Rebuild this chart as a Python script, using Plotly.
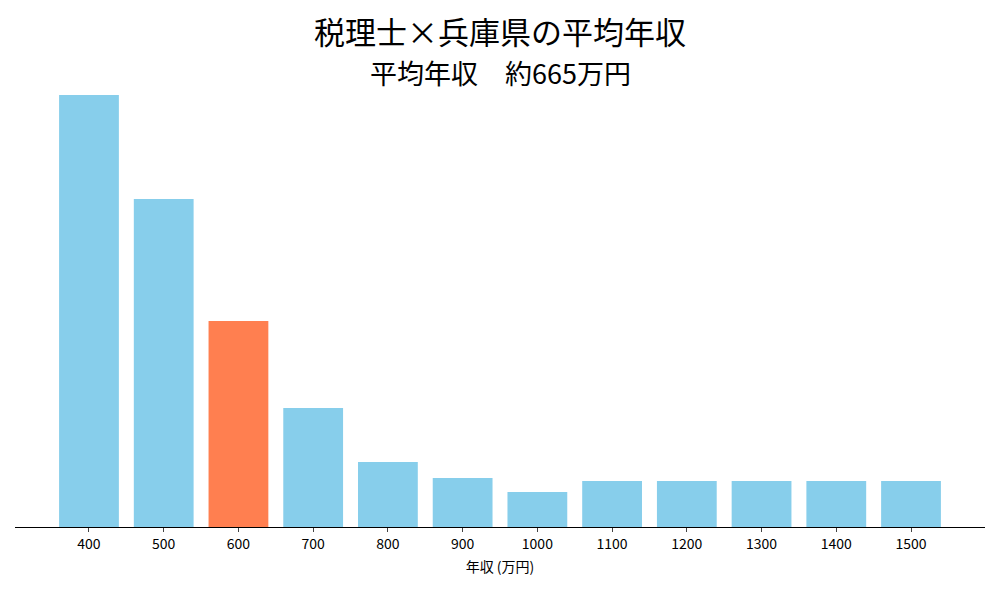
import plotly.graph_objects as go

categories = ["400","500","600","700","800","900","1000","1100","1200","1300","1400","1500"]
values = [432, 328, 206, 119, 65, 49, 35, 46, 46, 46, 46, 46]
highlight = "600"
title1 = "税理士×兵庫県の平均年収"
title2 = "平均年収　約665万円"
colors = ["#FF7F50" if c == highlight else "#87CEEB" for c in categories]

fig = go.Figure(go.Bar(x=list(range(len(categories))), y=values, marker_color=colors,
                       marker_line_width=0, width=0.8))
fig.update_layout(
    width=1000, height=600, plot_bgcolor="white", paper_bgcolor="white",
    margin=dict(l=7, r=23, t=87, b=81, autoexpand=False),
    font=dict(family="Noto Sans CJK JP", color="black"),
    annotations=[
        dict(text=title1, xref="paper", yref="paper", x=0.5, y=1, yshift=65, showarrow=False,
             font=dict(size=31), xanchor="center", yanchor="middle"),
        dict(text=title2, xref="paper", yref="paper", x=0.5, y=1, yshift=23, showarrow=False,
             font=dict(size=27), xanchor="center", yanchor="middle"),
    ],
    xaxis=dict(range=[-0.99, 11.99], tickvals=list(range(len(categories))), ticktext=categories,
               showline=True, linecolor="black", ticks="outside", ticklen=4, tickfont=dict(size=14),
               title=dict(text="年収 (万円)", font=dict(size=14), standoff=10)),
    yaxis=dict(range=[0, 432], visible=False),
    showlegend=False,
)
fig.write_html("out.html")
